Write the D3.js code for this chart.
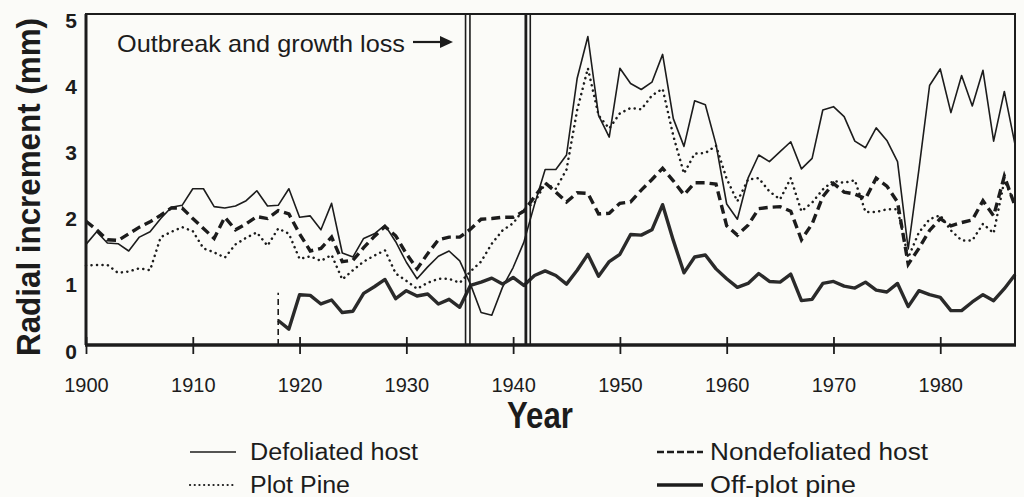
<!DOCTYPE html>
<html>
<head>
<meta charset="utf-8">
<script src="https://cdnjs.cloudflare.com/ajax/libs/d3/7.8.5/d3.min.js"></script>
<style>
  body { margin: 0; background: #fbfbf8; }
  svg { display: block; font-family: "Liberation Sans", Arial, Helvetica, sans-serif; }
</style>
</head>
<body>
<div id="chart"></div>
<script>
var years = d3.range(1900, 1988)

var defoliated = [1.52,1.71,1.54,1.53,1.42,1.63,1.71,1.91,2.08,2.11,
  2.36,2.36,2.09,2.07,2.10,2.18,2.33,2.10,2.11,2.36,
  1.93,1.95,1.74,2.14,1.39,1.33,1.61,1.68,1.81,1.56,
  1.25,1.00,1.18,1.34,1.42,1.27,0.92,0.49,0.45,0.87,
  1.17,1.55,2.12,2.65,2.65,2.87,4.03,4.66,3.47,3.14,
  4.18,3.95,3.86,3.97,4.39,3.42,3.00,3.69,3.63,3.03,
  2.13,1.90,2.52,2.87,2.77,2.92,3.07,2.66,2.82,3.55,
  3.60,3.45,3.08,2.98,3.28,3.09,2.77,1.45,2.65,3.92,
  4.17,3.51,4.07,3.61,4.15,3.08,3.83,3.03]

var plotPine = [1.20,1.21,1.21,1.09,1.11,1.16,1.13,1.63,1.71,1.78,
  1.72,1.46,1.40,1.32,1.52,1.62,1.70,1.50,1.76,1.68,
  1.30,1.34,1.27,1.36,0.99,1.13,1.26,1.35,1.43,1.08,
  0.97,0.85,0.94,1.00,1.00,0.94,1.11,1.26,1.53,1.73,
  1.84,2.05,2.15,2.44,2.36,2.65,3.55,4.18,3.47,3.27,
  3.50,3.58,3.56,3.77,3.87,3.16,2.59,2.89,2.90,3.01,
  2.51,2.17,2.50,2.52,2.32,2.20,2.52,2.02,2.15,2.35,
  2.48,2.45,2.49,2.01,2.01,2.05,2.05,1.32,1.70,1.90,
  1.96,1.73,1.58,1.58,1.83,1.69,2.48,2.14]

var nondefoliated = [1.87,1.74,1.59,1.58,1.68,1.78,1.86,1.96,2.07,2.07,
  1.91,1.76,1.61,1.93,1.74,1.83,1.94,1.91,2.03,1.98,
  1.68,1.42,1.46,1.63,1.26,1.28,1.47,1.64,1.79,1.65,
  1.38,1.15,1.38,1.59,1.63,1.63,1.75,1.90,1.91,1.93,
  1.93,2.02,2.24,2.45,2.31,2.16,2.30,2.29,1.98,1.99,
  2.14,2.16,2.34,2.50,2.67,2.48,2.27,2.45,2.45,2.43,
  1.80,1.66,1.81,2.06,2.08,2.09,2.02,1.59,1.83,2.24,
  2.44,2.31,2.28,2.21,2.52,2.40,2.16,1.22,1.46,1.73,
  1.91,1.80,1.85,1.89,2.18,1.95,2.55,2.10]

var offPlotYears = d3.range(1918, 1988)
var offPlot = [0.37,0.24,
  0.76,0.75,0.62,0.68,0.49,0.51,0.78,0.88,0.99,0.70,
  0.82,0.74,0.77,0.62,0.69,0.57,0.90,0.95,1.01,0.92,
  1.02,0.90,1.05,1.12,1.05,0.92,1.13,1.37,1.04,1.26,
  1.37,1.67,1.66,1.74,2.12,1.58,1.09,1.33,1.36,1.15,
  1.00,0.87,0.93,1.08,0.96,0.95,1.07,0.67,0.69,0.93,
  0.96,0.89,0.86,0.95,0.83,0.80,0.93,0.58,0.82,0.76,
  0.72,0.52,0.52,0.65,0.76,0.67,0.85,1.06]

var offPlotStart = {year: 1918, top: 0.79}
var outbreakYears = [1935.75, 1941.4]
var xTicks = [1900, 1910, 1920, 1930, 1940, 1950, 1960, 1970, 1980]
var yTicks = [0, 1, 2, 3, 4, 5]

var width = 1024, height = 497
var ink = '#1c1c1c'

var x = d3.scaleLinear().domain([1900, 1987]).range([86, 1015])
var y = d3.scaleLinear().domain([0, 5]).range([345, 14])

var svg = d3.select('#chart').append('svg')
    .attr('width', width)
    .attr('height', height)

svg.append('rect')
    .attr('width', width)
    .attr('height', height)
    .attr('fill', '#fbfbf8')

var line = d3.line()
    .x(function(d) { return x(d.year) })
    .y(function(d) { return y(d.value) })

function pairs(ys, vs) {
  return ys.map(function(yr, i) { return {year: yr, value: vs[i]} })
}

var plot = svg.append('g')

plot.append('path')
    .datum(pairs(years, defoliated))
    .attr('d', line)
    .attr('fill', 'none')
    .attr('stroke', ink)
    .attr('stroke-width', 1.6)
    .attr('stroke-linejoin', 'round')

plot.append('path')
    .datum(pairs(years, plotPine))
    .attr('d', line)
    .attr('fill', 'none')
    .attr('stroke', ink)
    .attr('stroke-width', 2.5)
    .attr('stroke-linecap', 'round')
    .attr('stroke-dasharray', '0.1,5.4')

plot.append('path')
    .datum(pairs(years, nondefoliated))
    .attr('d', line)
    .attr('fill', 'none')
    .attr('stroke', ink)
    .attr('stroke-width', 3.4)
    .attr('stroke-dasharray', '9,5')

plot.append('path')
    .datum(pairs(offPlotYears, offPlot))
    .attr('d', line)
    .attr('fill', 'none')
    .attr('stroke', '#2a2a2a')
    .attr('stroke-width', 3.4)
    .attr('stroke-linejoin', 'round')

plot.append('line')
    .attr('x1', x(offPlotStart.year)).attr('x2', x(offPlotStart.year))
    .attr('y1', y(0)).attr('y2', y(offPlotStart.top))
    .attr('stroke', ink)
    .attr('stroke-width', 1.6)
    .attr('stroke-dasharray', '6,4')

// outbreak markers, drawn as double rules
outbreakYears.forEach(function(yr, i) {
  [-2.2, 2.2].forEach(function(off, j) {
    plot.append('line')
        .attr('x1', x(yr) + off).attr('x2', x(yr) + off)
        .attr('y1', y(5)).attr('y2', y(0))
        .attr('stroke', ink)
        .attr('stroke-width', i == 1 && j == 0 ? 2.8 : 1.6)
  })
})

// frame
svg.append('rect')
    .attr('x', x(1900)).attr('y', y(5))
    .attr('width', x(1987) - x(1900)).attr('height', y(0) - y(5))
    .attr('fill', 'none')
    .attr('stroke', ink)
    .attr('stroke-width', 2)
svg.append('line')
    .attr('x1', x(1900)).attr('x2', x(1900))
    .attr('y1', y(5)).attr('y2', y(0))
    .attr('stroke', ink).attr('stroke-width', 3)
svg.append('line')
    .attr('x1', x(1900) - 1).attr('x2', x(1987) + 1)
    .attr('y1', y(0)).attr('y2', y(0))
    .attr('stroke', ink).attr('stroke-width', 3.5)

var xAxis = svg.append('g')
    .attr('transform', 'translate(0,' + y(0) + ')')
    .call(d3.axisBottom(x).tickValues(xTicks).tickFormat(d3.format('d')).tickSize(9).tickPadding(24))
xAxis.select('.domain').remove()
xAxis.selectAll('.tick line')
    .attr('y1', -8)
    .attr('stroke', ink)
    .attr('stroke-width', 1.8)
xAxis.selectAll('.tick text')
    .attr('fill', ink)
    .style('font-size', '20px')

var yAxis = svg.append('g')
    .attr('transform', 'translate(' + x(1900) + ',0)')
    .call(d3.axisLeft(y).tickValues(yTicks).tickFormat(d3.format('d')).tickSize(0).tickPadding(9))
yAxis.select('.domain').remove()
yAxis.selectAll('.tick text')
    .attr('fill', ink)
    .attr('dy', '0.62em')
    .style('font-size', '21px')
    .style('font-weight', 'bold')

svg.append('text')
    .attr('transform', 'translate(40,187) rotate(-90)')
    .attr('text-anchor', 'middle')
    .attr('fill', ink)
    .attr('textLength', 338)
    .attr('lengthAdjust', 'spacingAndGlyphs')
    .style('font-size', '33px')
    .style('font-weight', 'bold')
    .text('Radial increment (mm)')

svg.append('text')
    .attr('x', 540).attr('y', 428)
    .attr('text-anchor', 'middle')
    .attr('fill', ink)
    .attr('textLength', 66)
    .attr('lengthAdjust', 'spacingAndGlyphs')
    .style('font-size', '36px')
    .style('font-weight', 'bold')
    .text('Year')

svg.append('text')
    .attr('x', 117).attr('y', 52)
    .attr('fill', ink)
    .attr('textLength', 288)
    .attr('lengthAdjust', 'spacingAndGlyphs')
    .style('font-size', '24px')
    .text('Outbreak and growth loss')

svg.append('line')
    .attr('x1', 413).attr('x2', 442)
    .attr('y1', 42).attr('y2', 42)
    .attr('stroke', ink).attr('stroke-width', 2.2)
svg.append('path')
    .attr('d', 'M440,36 L453,42 L440,48 Z')
    .attr('fill', ink)

// legend
var legend = [
  {name: 'Defoliated host', x: 190, tx: 250, y: 452, width: 1.6, dash: null, cap: 'butt', len: 168},
  {name: 'Plot Pine', x: 190, tx: 250, y: 485, width: 2.2, dash: '0.1,4.6', cap: 'round', len: 100},
  {name: 'Nondefoliated host', x: 657, tx: 710, y: 452, width: 2.6, dash: '7,3', cap: 'butt', len: 218},
  {name: 'Off-plot pine', x: 657, tx: 710, y: 485, width: 3.6, dash: null, cap: 'butt', len: 146}
]

legend.forEach(function(d) {
  svg.append('line')
      .attr('x1', d.x).attr('x2', d.x + 46)
      .attr('y1', d.y).attr('y2', d.y)
      .attr('stroke', ink)
      .attr('stroke-width', d.width)
      .attr('stroke-linecap', d.cap)
      .attr('stroke-dasharray', d.dash)
  svg.append('text')
      .attr('x', d.tx).attr('y', d.y + 8)
      .attr('fill', ink)
      .attr('textLength', d.len)
      .attr('lengthAdjust', 'spacingAndGlyphs')
      .style('font-size', '23px')
      .text(d.name)
})
</script>
</body>
</html>
